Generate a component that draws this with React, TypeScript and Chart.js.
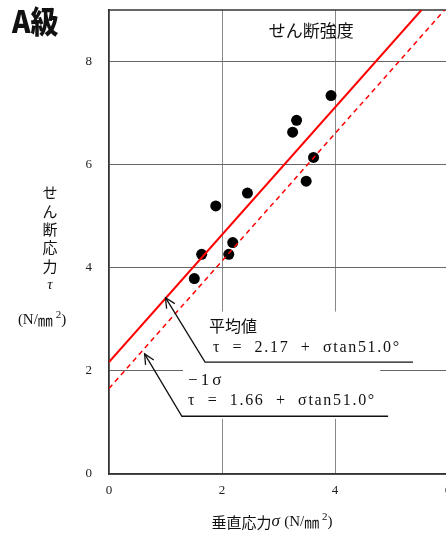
import React, { useEffect, useRef } from 'react';
import { Chart, registerables } from 'chart.js';
Chart.register(...registerables);

// ---- data ----
const xTickValues = [0, 2, 4, 6];
const yTickValues = [0, 2, 4, 6, 8];
const sigmaValues = [3.93, 3.32, 3.25, 3.62, 3.49, 2.45, 1.89, 2.19, 2.12, 1.64, 1.51];
const tauValues = [7.34, 6.86, 6.63, 6.14, 5.68, 5.45, 5.2, 4.49, 4.26, 4.26, 3.79];
const meanLineX = [0, 5.53];
const meanLineY = [2.17, 9];
const lowLineX = [0, 5.94];
const lowLineY = [1.66, 9];
const meanLabel = '平均値';
const meanEquation = 'τ  =  2.17  +  σtan51.0°';
const lowLabel = '−1σ';
const lowEquation = 'τ  =  1.66  +  σtan51.0°';
const chartTitle = 'せん断強度';
const gradeLabel = 'A級';
const yTitleChars = ['せ', 'ん', '断', '応', '力', 'τ'];
const xTitle = '垂直応力';

const SERIF = '"Liberation Serif", "DejaVu Serif", serif';
const JP = '"Noto Sans CJK JP", sans-serif';

type Seg = [string, string, number];

export default function App() {
  const ref = useRef<HTMLCanvasElement>(null);
  useEffect(() => {
    const canvas = ref.current!;
    const drawSegs = (ctx: CanvasRenderingContext2D, segs: Seg[], cx: number, cy: number) => {
      let total = 0;
      const widths = segs.map(([t, f]) => { ctx.font = f; const w = ctx.measureText(t).width; total += w; return w; });
      let x = cx - total / 2;
      ctx.textAlign = 'left';
      segs.forEach(([t, f, dy], i) => { ctx.font = f; ctx.fillText(t, x, cy + dy); x += widths[i]; });
    };
    const unitSegs = (size: number): Seg[] => [
      ['(N/', `${size}px ${SERIF}`, 0],
      ['㎜', `${size}px ${JP}`, 0],
      [' 2', `${Math.round(size * 0.7)}px ${SERIF}`, -size * 0.35],
      [')', `${size}px ${SERIF}`, 0],
    ];
    const overlay = {
      id: 'overlay',
      beforeDatasetsDraw(chart: any) {
        const { ctx, chartArea, scales } = chart;
        const xs = scales.x, ys = scales.y;
        ctx.save();
        const bx0 = xs.getPixelForValue(1.31), bx1 = xs.getPixelForValue(4.8);
        const by0 = ys.getPixelForValue(3.15), by1 = ys.getPixelForValue(1.07);
        ctx.fillStyle = '#fff';
        ctx.fillRect(bx0, by0, bx1 - bx0, by1 - by0);
        ctx.strokeStyle = '#333';
        ctx.lineWidth = 1.5;
        ctx.beginPath();
        ctx.moveTo(chartArea.left, chartArea.top);
        ctx.lineTo(chartArea.right, chartArea.top);
        ctx.stroke();
        ctx.restore();
      },
      afterDatasetsDraw(chart: any) {
        const { ctx, scales } = chart;
        const xs = scales.x, ys = scales.y;
        const P = (x: number, y: number) => [xs.getPixelForValue(x), ys.getPixelForValue(y)];
        ctx.save();
        const arrow = (tip: number[], elbow: number[], endX: number) => {
          const [tx, ty] = P(tip[0], tip[1]);
          const [ex, ey] = P(elbow[0], elbow[1]);
          const [hx] = P(endX, elbow[1]);
          ctx.strokeStyle = '#111';
          ctx.lineWidth = 1.3;
          ctx.beginPath();
          ctx.moveTo(hx, ey);
          ctx.lineTo(ex, ey);
          ctx.lineTo(tx, ty);
          ctx.stroke();
          const ang = Math.atan2(ey - ty, ex - tx);
          const L = 11, w = 0.45;
          ctx.beginPath();
          ctx.moveTo(tx + L * Math.cos(ang + w), ty + L * Math.sin(ang + w));
          ctx.lineTo(tx, ty);
          ctx.lineTo(tx + L * Math.cos(ang - w), ty + L * Math.sin(ang - w));
          ctx.stroke();
        };
        arrow([1.0, 3.42], [1.7, 2.17], 5.38);
        arrow([0.63, 2.33], [1.29, 1.12], 4.94);

        ctx.fillStyle = '#111';
        ctx.textBaseline = 'middle';
        ctx.textAlign = 'left';
        let p = P(1.77, 2.88);
        ctx.font = `16px ${JP}`;
        ctx.fillText(meanLabel, p[0], p[1]);
        p = P(1.84, 2.45);
        ctx.font = `16px ${SERIF}`;
        (ctx as any).letterSpacing = '1.7px';
        ctx.fillText(meanEquation, p[0], p[1]);
        p = P(1.4, 1.82);
        ctx.font = `17px ${SERIF}`;
        (ctx as any).letterSpacing = '3px';
        ctx.fillText(lowLabel, p[0], p[1]);
        p = P(1.4, 1.42);
        ctx.font = `16px ${SERIF}`;
        (ctx as any).letterSpacing = '1.7px';
        ctx.fillText(lowEquation, p[0], p[1]);
        (ctx as any).letterSpacing = '0px';

        // chart title
        ctx.textAlign = 'center';
        ctx.font = `17px ${JP}`;
        p = P(3.58, 8.6);
        ctx.fillText(chartTitle, p[0], p[1]);

        // grade label
        ctx.save();
        ctx.textAlign = 'left';
        ctx.font = `900 31px ${JP}`;
        ctx.translate(12, 21);
        ctx.scale(0.9, 1);
        ctx.fillText(gradeLabel, 0, 0);
        ctx.restore();

        // y-axis title (vertical)
        ctx.textAlign = 'center';
        const yPos = [192, 211, 229, 247, 266, 285];
        yTitleChars.forEach((c, i) => {
          ctx.font = c === 'τ' ? `italic 15px ${SERIF}` : `15px ${JP}`;
          ctx.fillText(c, 50, yPos[i]);
        });
        drawSegs(ctx, unitSegs(15), 42, 320);

        // x-axis title
        drawSegs(ctx, [
          [xTitle, `15px ${JP}`, 0],
          ['σ ', `italic 17px ${SERIF}`, 0],
          ...unitSegs(15),
        ], 272, 522);
        ctx.restore();
      },
    };

    const chart = new Chart(canvas, {
      type: 'scatter',
      data: {
        datasets: [
          {
            type: 'line' as any,
            data: meanLineX.map((x, i) => ({ x, y: meanLineY[i] })),
            borderColor: '#ff0000',
            borderWidth: 2,
            pointRadius: 0,
            showLine: true,
            fill: false,
          },
          {
            type: 'line' as any,
            data: lowLineX.map((x, i) => ({ x, y: lowLineY[i] })),
            borderColor: '#ff0000',
            borderWidth: 1.5,
            borderDash: [5, 4],
            pointRadius: 0,
            showLine: true,
            fill: false,
          },
          {
            data: sigmaValues.map((x, i) => ({ x, y: tauValues[i] })),
            backgroundColor: '#000',
            borderColor: '#000',
            pointRadius: 5.5,
            borderWidth: 0,
          },
        ],
      },
      options: {
        responsive: false,
        animation: false,
        devicePixelRatio: 1,
        layout: { padding: { top: 10, right: 22, left: 0, bottom: 0 } },
        plugins: { legend: { display: false }, tooltip: { enabled: false } },
        scales: {
          x: {
            type: 'linear',
            min: 0,
            max: 6,
            afterBuildTicks: (s: any) => { s.ticks = xTickValues.map((v) => ({ value: v })); },
            afterFit: (s: any) => { s.height = 59; s.paddingLeft = 0; s.paddingRight = 0; },
            ticks: { font: { family: SERIF, size: 13 }, color: '#222', padding: 9 },
            grid: { color: '#888', drawTicks: false, lineWidth: 1 },
            border: { color: '#333', width: 1.5 },
          },
          y: {
            type: 'linear',
            min: 0,
            max: 9,
            afterBuildTicks: (s: any) => { s.ticks = yTickValues.map((v) => ({ value: v })); },
            afterFit: (s: any) => { s.width = 109; s.paddingTop = 0; s.paddingBottom = 0; },
            ticks: { font: { family: SERIF, size: 13 }, color: '#222', padding: 17 },
            grid: { color: '#666', drawTicks: false, lineWidth: 1 },
            border: { color: '#333', width: 1.5 },
          },
        },
      },
      plugins: [overlay],
    });
    return () => chart.destroy();
  }, []);

  return (
    <div style={{ position: 'fixed', left: 0, top: 0, width: 446, height: 533, overflow: 'hidden', background: '#fff' }}>
      <canvas ref={ref} width={470} height={533} style={{ display: 'block' }} />
    </div>
  );
}
